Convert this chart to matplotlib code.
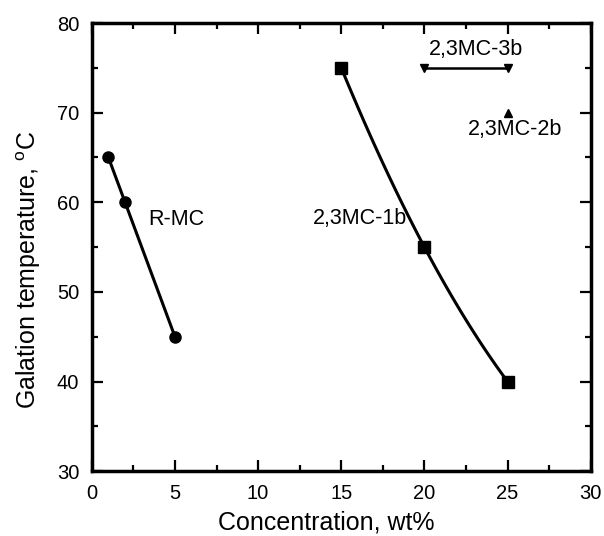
import numpy as np
import matplotlib
matplotlib.use("Agg")
import matplotlib.pyplot as plt

plt.rcParams['font.family'] = ['Liberation Sans', 'DejaVu Sans']
plt.rcParams['mathtext.fontset'] = 'custom'
plt.rcParams['mathtext.rm'] = 'Liberation Sans'
plt.rcParams['mathtext.it'] = 'Liberation Sans'

rmc_x = [1, 2, 5]
rmc_y = [65, 60, 45]
mc1b_x = [15, 20, 25]
mc1b_y = [75, 55, 40]
mc3b_x = [20, 25]
mc3b_y = [75, 75]
mc2b_x = [25]
mc2b_y = [70]

fig = plt.figure(figsize=(6.04, 5.36), dpi=100)
ax = fig.add_axes([0.152, 0.121, 0.826, 0.836])

ax.plot(rmc_x, rmc_y, '-', color='black', lw=2.2, marker='o', ms=8)

coef = np.polyfit(mc1b_x, mc1b_y, 2)
xs = np.linspace(min(mc1b_x), max(mc1b_x), 100)
ax.plot(xs, np.polyval(coef, xs), '-', color='black', lw=2.2)
ax.plot(mc1b_x, mc1b_y, 's', color='black', ms=8.5)

ax.plot(mc3b_x, mc3b_y, '-', color='black', lw=1.8, marker='v', ms=6)
ax.plot(mc2b_x, mc2b_y, '^', color='black', ms=6)

fs = 15.5
ax.text(3.37, 58.1, 'R-MC', fontsize=fs, ha='left', va='center')
ax.text(18.95, 58.2, '2,3MC-1b', fontsize=fs, ha='right', va='center')
ax.text(23.09, 77.0, '2,3MC-3b', fontsize=fs, ha='center', va='center')
ax.text(25.43, 68.1, '2,3MC-2b', fontsize=fs, ha='center', va='center')

ax.set_xlim(0, 30)
ax.set_ylim(30, 80)
ax.set_xticks([0, 5, 10, 15, 20, 25, 30])
ax.set_yticks([30, 40, 50, 60, 70, 80])
ax.set_xticks(np.arange(2.5, 30, 5), minor=True)
ax.set_yticks(np.arange(35, 80, 10), minor=True)
ax.tick_params(which='both', direction='in', top=True, right=True, labelsize=14.5, width=1.6, pad=9)
ax.tick_params(which='major', length=8)
ax.tick_params(which='minor', length=4.5)
for s in ax.spines.values():
    s.set_linewidth(2.5)

ax.set_xlabel('Concentration, wt%', fontsize=18)
ax.set_ylabel(r'Galation temperature, $^{\mathrm{o}}$C', fontsize=18)
ax.xaxis.set_label_coords(0.469, -0.131)
ax.xaxis.label.set_verticalalignment('baseline')
ax.yaxis.set_label_coords(-0.1122, 0.4487)
ax.yaxis.label.set_verticalalignment('baseline')

fig.savefig('out.png', dpi=100)
